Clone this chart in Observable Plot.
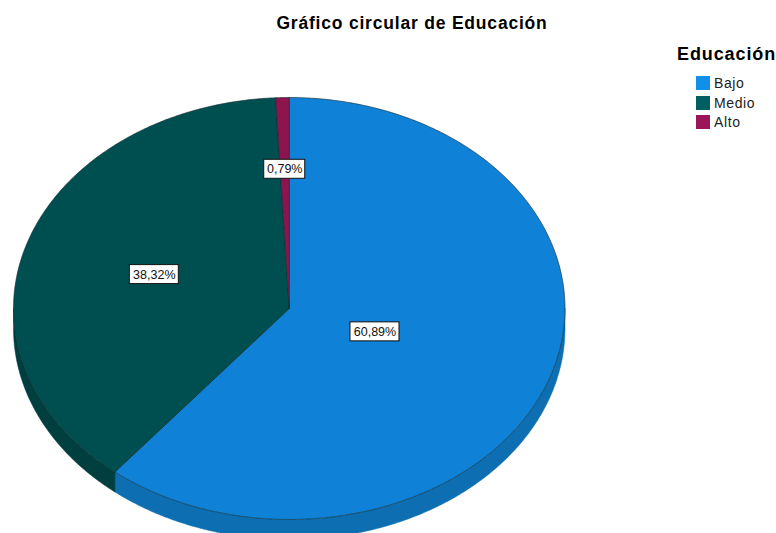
<!DOCTYPE html>
<html>
<head>
<meta charset="utf-8">
<script src="https://cdn.jsdelivr.net/npm/d3@7"></script>
<script src="https://cdn.jsdelivr.net/npm/@observablehq/plot@0.6"></script>
<style>
html,body{margin:0;padding:0;background:#fff;overflow:hidden}
#wrap{position:relative;width:776px;height:533px;font-family:"Liberation Sans",Arial,sans-serif;color:#000}
#title{position:absolute;left:0;width:824px;top:13px;text-align:center;font-weight:bold;font-size:17.5px;line-height:20px;letter-spacing:.8px}
#legend-title{position:absolute;left:677px;top:43px;font-weight:bold;font-size:18px;line-height:22px;letter-spacing:.9px;white-space:nowrap}
.item{position:absolute;left:696px;font-size:14px;line-height:16px;padding-left:18px;color:#222;letter-spacing:.6px}
.item i{position:absolute;left:0;top:1px;width:14px;height:14px}
svg{position:absolute;left:0;top:0}
</style>
</head>
<body>
<div id="wrap"></div>
<script>
const categories = ["Bajo", "Medio", "Alto"];
const percents = [60.89, 38.32, 0.79];
const percentLabels = ["60,89%", "38,32%", "0,79%"];
const topColors = ["#0f81d6", "#004f50", "#8e1450"];
const sideColors = ["#0d6fb2", "#003f40", "#6e0f3e"];
const legendColors = ["#1190ea", "#005f60", "#9c1558"];
const labelRadius = [0.33, 0.515, 0.66];

const depth = 0.095;
const total = d3.sum(percents);
const arcs = [];
let acc = 0;
categories.forEach((c, i) => {
  const a0 = acc / total * 2 * Math.PI;
  acc += percents[i];
  const a1 = acc / total * 2 * Math.PI;
  arcs.push({c, i, a0, a1, mid: (a0 + a1) / 2});
});
const pt = a => [Math.sin(a), Math.cos(a)];
const arcPts = (a0, a1) => {
  const n = Math.max(2, Math.ceil((a1 - a0) / 0.01));
  return d3.range(n + 1).map(k => pt(a0 + (a1 - a0) * k / n));
};

const topRows = [], sideRows = [];
for (const s of arcs) {
  const poly = [[0, 0], ...arcPts(s.a0, s.a1), [0, 0]];
  poly.forEach(([x, y]) => topRows.push({x, y, c: s.c, fill: topColors[s.i]}));
  // visible wall: part of the rim on the front half of the ellipse
  const lo = Math.max(s.a0, Math.PI / 2), hi = Math.min(s.a1, 3 * Math.PI / 2);
  if (hi > lo) {
    const rim = arcPts(lo, hi);
    const wall = [...rim, ...rim.slice().reverse().map(([x, y]) => [x, y - depth]), rim[0]];
    wall.forEach(([x, y]) => sideRows.push({x, y, c: s.c, fill: sideColors[s.i]}));
  }
}
const labels = arcs.map(s => {
  const [x, y] = pt(s.mid);
  return {x: x * labelRadius[s.i], y: y * labelRadius[s.i], t: percentLabels[s.i], w: percentLabels[s.i].length};
});

const chart = Plot.plot({
  width: 776, height: 533, margin: 0,
  x: {domain: [-1, 1], range: [13, 564.5], axis: null},
  y: {domain: [1, -1], range: [97, 519], axis: null},
  marks: [
    Plot.line(sideRows, {x: "x", y: "y", z: "c", fill: "fill", stroke: "fill", strokeWidth: 0.5, curve: "linear"}),
    Plot.line(topRows, {x: "x", y: "y", z: "c", fill: "fill", stroke: "#10282c", strokeWidth: 0.8, strokeOpacity: 0.75, curve: "linear"}),
    Plot.rect(labels.filter(d => d.w > 5), {x1: "x", x2: "x", y1: "y", y2: "y", insetLeft: -24.5, insetRight: -24.5, insetTop: -9.5, insetBottom: -9.5, fill: "#fff", stroke: "#111", strokeWidth: 1}),
    Plot.rect(labels.filter(d => d.w <= 5), {x1: "x", x2: "x", y1: "y", y2: "y", insetLeft: -20.5, insetRight: -20.5, insetTop: -9.5, insetBottom: -9.5, fill: "#fff", stroke: "#111", strokeWidth: 1}),
    Plot.text(labels, {x: "x", y: "y", text: "t", fill: "#111", fontSize: 12.5, fontFamily: "Liberation Sans, Arial, sans-serif"})
  ]
});

const wrap = document.getElementById("wrap");
wrap.appendChild(chart);
const add = (id, text) => {
  const d = document.createElement("div");
  d.id = id; d.textContent = text; wrap.appendChild(d); return d;
};
add("title", "Gráfico circular de Educación");
add("legend-title", "Educación");
categories.forEach((c, i) => {
  const d = document.createElement("div");
  d.className = "item";
  d.style.top = (75 + i * 19.5) + "px";
  d.innerHTML = `<i style="background:${legendColors[i]}"></i>`;
  d.appendChild(document.createTextNode(c));
  wrap.appendChild(d);
});
</script>
</body>
</html>
